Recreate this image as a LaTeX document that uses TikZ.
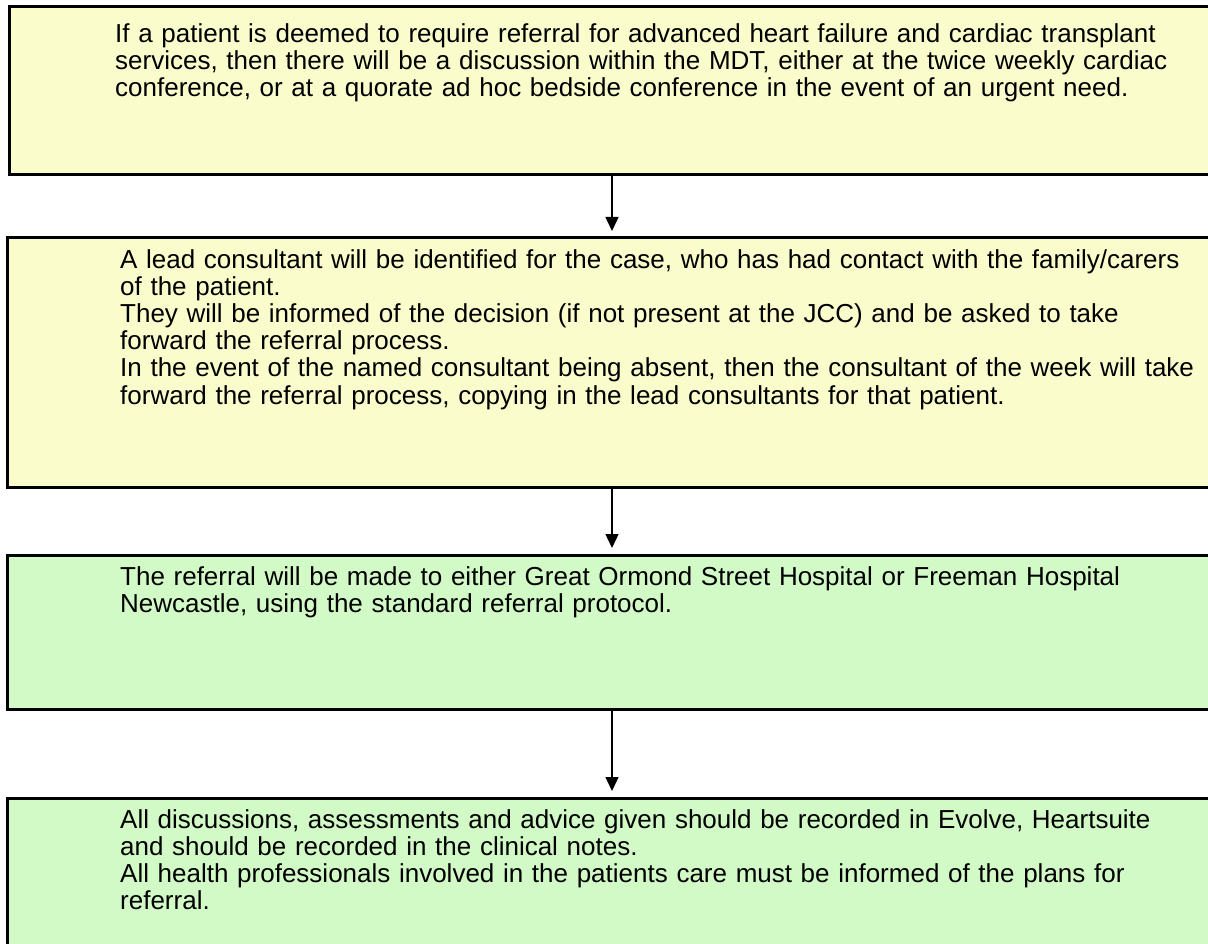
\documentclass[tikz,border=0pt]{standalone}
\usepackage{fontspec}
\setmainfont{Liberation Sans}
\usetikzlibrary{arrows.meta}
\definecolor{boxyellow}{RGB}{250,252,204}
\definecolor{boxgreen}{RGB}{210,250,198}
\begin{document}
\begin{tikzpicture}[x=1pt,y=-1pt,
  flowbox/.style={draw=black,line width=3pt,inner sep=0pt,outer sep=0pt,anchor=north west},
  flowtext/.style={anchor=north west,inner sep=0pt,align=left,text width=1090pt,
    font=\fontsize{26.0}{27.2}\selectfont},
  flowarrow/.style={-{Triangle[length=14pt,width=13pt]},line width=1.5pt,shorten >=7pt}]
\useasboundingbox (0,0) rectangle (1208,944);
\fill[white] (0,0) rectangle (1208,944);
% boxes (they run past the right edge of the picture)
\node[flowbox,fill=boxyellow,minimum width=1206pt,minimum height=168pt] (b1) at (9,7) {};
\node[flowbox,fill=boxyellow,minimum width=1210pt,minimum height=249pt] (b2) at (7,238) {};
\node[flowbox,fill=boxgreen,minimum width=1210pt,minimum height=154pt] (b3) at (7,555) {};
\node[flowbox,fill=boxgreen,minimum width=1210pt,minimum height=160pt] (b4) at (7,798) {};
% texts
\node[flowtext] (t1) at (115,23) {If a patient is deemed to require referral for advanced heart failure and cardiac transplant\\services, then there will be a discussion within the MDT, either at the twice weekly cardiac\\conference, or at a quorate ad hoc bedside conference in the event of an urgent need.};
\node[flowtext] (t2) at (120,249) {A lead consultant will be identified for the case, who has had contact with the family/carers\\of the patient.\\They will be informed of the decision (if not present at the JCC) and be asked to take\\forward the referral process.\\In the event of the named consultant being absent, then the consultant of the week will take\\forward the referral process, copying in the lead consultants for that patient.};
\node[flowtext] (t3) at (120,566) {The referral will be made to either Great Ormond Street Hospital or Freeman Hospital\\Newcastle, using the standard referral protocol.};
\node[flowtext] (t4) at (120,809) {All discussions, assessments and advice given should be recorded in Evolve, Heartsuite\\and should be recorded in the clinical notes.\\All health professionals involved in the patients care must be informed of the plans for\\referral.};
% arrows
\draw[flowarrow] (b1.south) -- (b2.north);
\draw[flowarrow] (b2.south) -- (b3.north);
\draw[flowarrow] (b3.south) -- (b4.north);
\end{tikzpicture}
\end{document}
